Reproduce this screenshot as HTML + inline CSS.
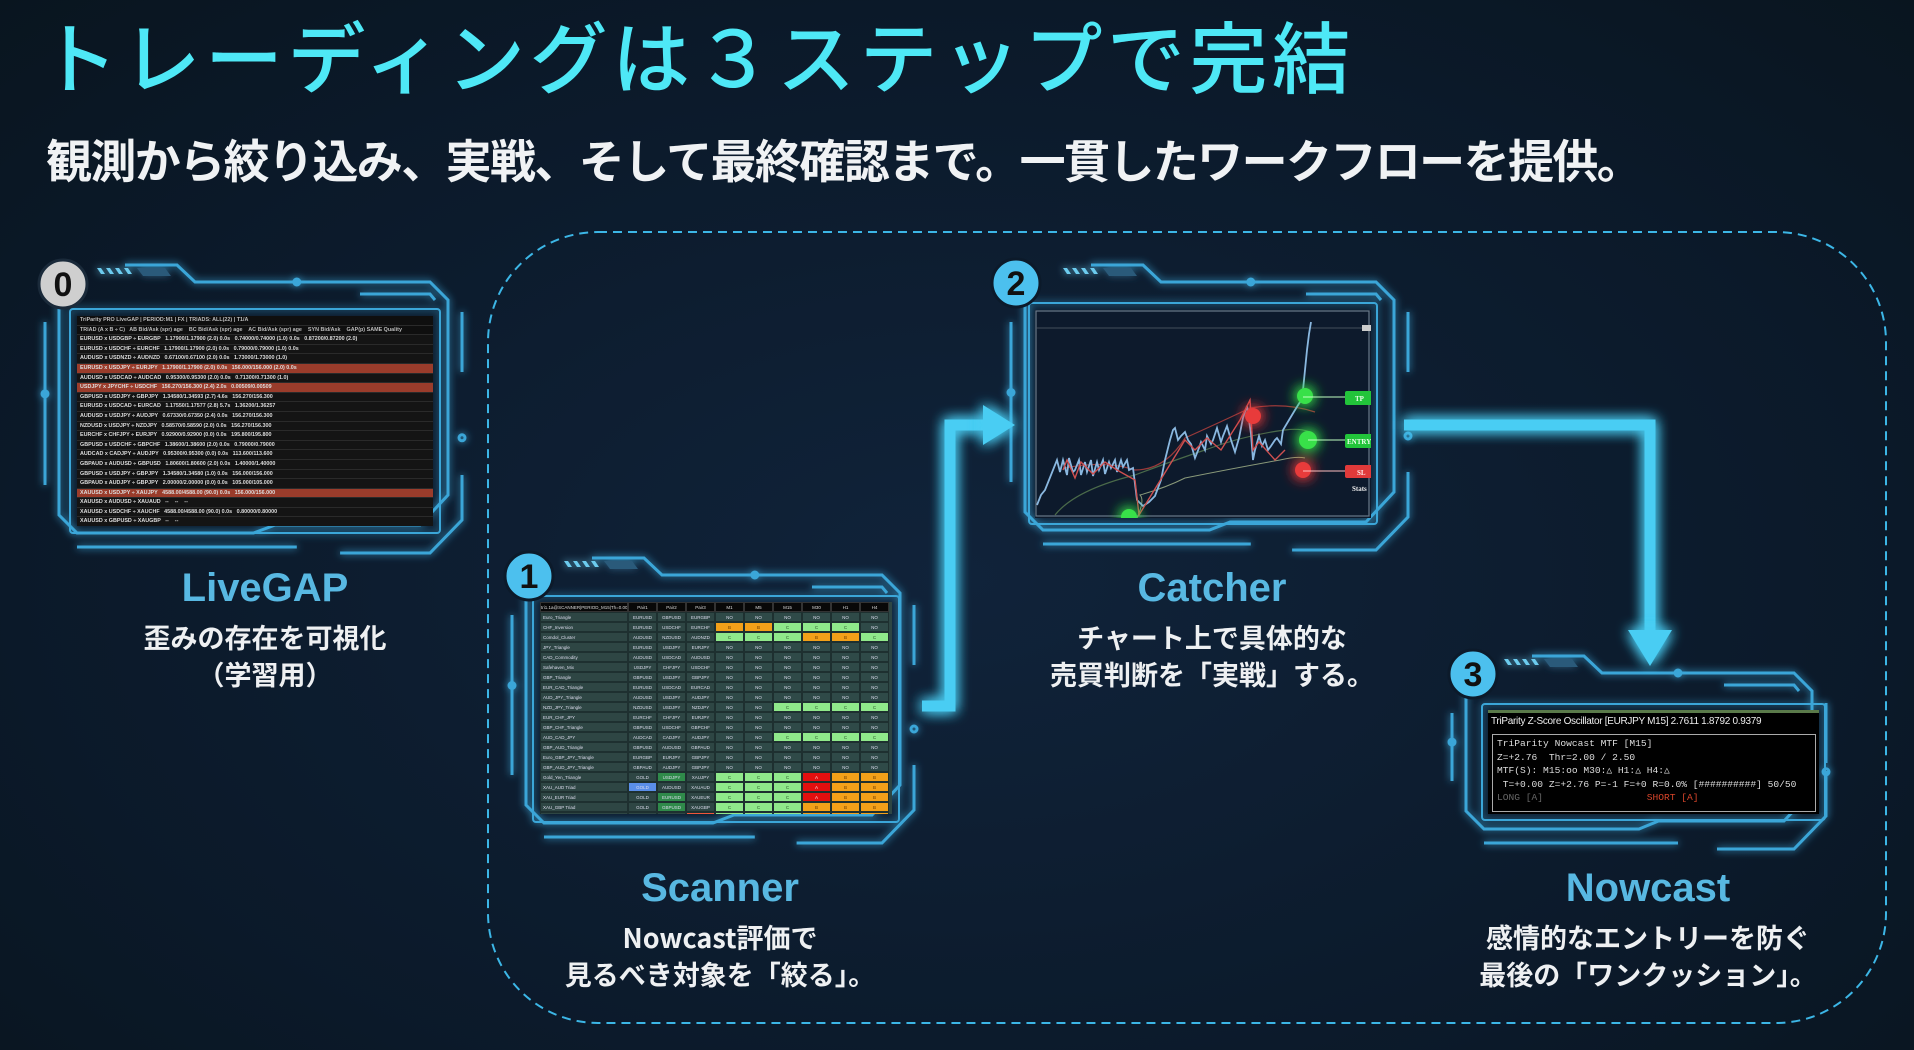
<!DOCTYPE html>
<html><head><meta charset="utf-8">
<style>
*{margin:0;padding:0;box-sizing:border-box}
body{width:1914px;height:1050px;background:#0c1a2a;position:relative;overflow:hidden;font-family:"Liberation Sans","Noto Sans CJK JP",sans-serif}
.abs{position:absolute}
#bg{position:absolute;left:0;top:0;width:1914px;height:1050px;background:radial-gradient(ellipse at 50% 55%,#10233a 0%,#0b1929 70%,#09151f 100%)}
.title{left:40px;top:6px;font-family:"Noto Sans CJK JP",sans-serif;font-size:78px;font-weight:500;color:#4ee8f6;white-space:nowrap;line-height:1.25;letter-spacing:4.5px}
.sub{left:46px;top:132px;font-family:"Noto Sans CJK JP",sans-serif;font-size:46px;font-weight:700;color:#f0f2f4;white-space:nowrap;line-height:1.2;letter-spacing:-1.6px}
.lbl{font-family:"Liberation Sans","DejaVu Sans",sans-serif;font-weight:700;font-size:40px;color:#58b8e2;text-align:center;width:400px;line-height:1}
.desc{font-family:"Noto Sans CJK JP",sans-serif;font-weight:700;font-size:27px;color:#eef0f2;text-align:center;width:500px;line-height:37px}
.scr{position:absolute;overflow:hidden}
.lg{background:#141414;font-family:"Liberation Sans",sans-serif;font-size:5.4px;font-weight:700;color:#ddd;line-height:9.6px}
.lg div{height:9.6px;white-space:nowrap;border-bottom:1px solid #2a2a2a;padding-left:3px}
.lg .h{background:#0f0f0f;color:#bbb}
.lg .rd{background:#9a3c2b}
.sc{background:#2e4644;display:grid;grid-template-columns:88px 29px 29px 29px 29px 29px 29px 29px 29px 29px;grid-auto-rows:10px;font-size:4.5px;color:#dde;font-family:"Liberation Sans",sans-serif}
.sc span{border:0.5px solid #1e3030;text-align:center;line-height:9px;overflow:hidden;white-space:nowrap}
.sc .hd{background:#080808;color:#ddd;border-color:#333}
.sc .n{background:#2f4a48}
.sc .g{background:#8fe88a;color:#2a5a2a}
.sc .o{background:#f2a019;color:#6a3a00}
.sc .r{background:#e30f0f;color:#fdd}
.sc .l{text-align:left;padding-left:2px}
.nc{background:#000;font-family:"Liberation Mono",monospace;color:#ddd}
</style></head><body>
<div id="bg"></div>
<svg class="abs" style="left:0;top:0" width="1914" height="1050" viewBox="0 0 1914 1050">
<defs>
<filter id="glow" x="-20%" y="-20%" width="140%" height="140%"><feGaussianBlur stdDeviation="4" result="b"/><feMerge><feMergeNode in="b"/><feMergeNode in="SourceGraphic"/></feMerge></filter>
<filter id="glow2" x="-50%" y="-50%" width="200%" height="200%"><feGaussianBlur stdDeviation="7" result="b"/><feMerge><feMergeNode in="b"/><feMergeNode in="b"/><feMergeNode in="SourceGraphic"/></feMerge></filter>
</defs>
<rect x="488" y="232" width="1398" height="791" rx="110" fill="none" stroke="#3cb6e6" stroke-width="2" stroke-dasharray="9 6"/>
<g id="frames" fill="none" stroke="#3aa6d8" stroke-width="3" filter="url(#glow)"></g>
<g filter="url(#glow2)" stroke="#48cdf3" stroke-width="11" fill="none" stroke-linejoin="miter">
<polyline points="922,706 950,706 950,425 985,425"/>
<polyline points="1404,425 1650,425 1650,635"/>
</g>
<g filter="url(#glow2)" fill="#48cdf3">
<polygon points="983,405 1015,425 983,445"/>
<polygon points="1628,630 1672,630 1650,666"/>
</g>
</svg>

<div class="abs title">トレーディングは３ステップで完結</div>
<div class="abs sub">観測から絞り込み、実戦、そして最終確認まで。一貫したワークフローを提供。</div>

<div class="scr lg" style="left:77px;top:316px;width:356px;height:210px">
<div class="h">TriParity PRO LiveGAP | PERIOD:M1 | FX | TRIADS: ALL(22) | T1/A</div>
<div class="h">TRIAD (A x B ÷ C) &nbsp; AB Bid/Ask (spr) age &nbsp;&nbsp; BC Bid/Ask (spr) age &nbsp;&nbsp; AC Bid/Ask (spr) age &nbsp;&nbsp; SYN Bid/Ask &nbsp;&nbsp; GAP(p) SAME Quality</div>
<div>EURUSD x USDGBP ÷ EURGBP &nbsp; 1.17900/1.17900 (2.0) 0.0s &nbsp; 0.74000/0.74000 (1.0) 0.0s &nbsp; 0.87200/0.87200 (2.0)</div>
<div>EURUSD x USDCHF ÷ EURCHF &nbsp; 1.17900/1.17900 (2.0) 0.0s &nbsp; 0.79000/0.79000 (1.0) 0.0s</div>
<div>AUDUSD x USDNZD ÷ AUDNZD &nbsp; 0.67100/0.67100 (2.0) 0.0s &nbsp; 1.73000/1.73000 (1.0)</div>
<div class="rd">EURUSD x USDJPY ÷ EURJPY &nbsp; 1.17900/1.17900 (2.0) 0.0s &nbsp; 156.000/156.000 (2.0) 0.0s</div>
<div>AUDUSD x USDCAD ÷ AUDCAD &nbsp; 0.95300/0.95300 (2.0) 0.0s &nbsp; 0.71300/0.71300 (1.0)</div>
<div class="rd">USDJPY x JPYCHF ÷ USDCHF &nbsp; 156.270/156.300 (2.4) 2.0s &nbsp; 0.00509/0.00509</div>
<div>GBPUSD x USDJPY ÷ GBPJPY &nbsp; 1.34580/1.34593 (2.7) 4.6s &nbsp; 156.270/156.300</div>
<div>EURUSD x USDCAD ÷ EURCAD &nbsp; 1.17550/1.17577 (2.8) 5.7s &nbsp; 1.36200/1.36257</div>
<div>AUDUSD x USDJPY ÷ AUDJPY &nbsp; 0.67330/0.67350 (2.4) 0.0s &nbsp; 156.270/156.300</div>
<div>NZDUSD x USDJPY ÷ NZDJPY &nbsp; 0.58570/0.58590 (2.0) 0.0s &nbsp; 156.270/156.300</div>
<div>EURCHF x CHFJPY ÷ EURJPY &nbsp; 0.92900/0.92900 (0.0) 0.0s &nbsp; 195.800/195.800</div>
<div>GBPUSD x USDCHF ÷ GBPCHF &nbsp; 1.38600/1.38600 (2.0) 0.0s &nbsp; 0.79000/0.79000</div>
<div>AUDCAD x CADJPY ÷ AUDJPY &nbsp; 0.95300/0.95300 (0.0) 0.0s &nbsp; 113.600/113.600</div>
<div>GBPAUD x AUDUSD ÷ GBPUSD &nbsp; 1.80600/1.80600 (2.0) 0.0s &nbsp; 1.40000/1.40000</div>
<div>GBPUSD x USDJPY ÷ GBPJPY &nbsp; 1.34580/1.34580 (1.0) 0.0s &nbsp; 156.000/156.000</div>
<div>GBPAUD x AUDJPY ÷ GBPJPY &nbsp; 2.00000/2.00000 (0.0) 0.0s &nbsp; 105.000/105.000</div>
<div class="rd">XAUUSD x USDJPY ÷ XAUJPY &nbsp; 4588.00/4588.00 (90.0) 0.0s &nbsp; 156.000/156.000</div>
<div>XAUUSD x AUDUSD ÷ XAUAUD &nbsp; -- &nbsp;&nbsp; -- &nbsp;&nbsp; --</div>
<div>XAUUSD x USDCHF ÷ XAUCHF &nbsp; 4588.00/4588.00 (90.0) 0.0s &nbsp; 0.80000/0.80000</div>
<div>XAUUSD x GBPUSD ÷ XAUGBP &nbsp; -- &nbsp;&nbsp; --</div>
</div>

<div class="scr sc" style="left:540px;top:602px;width:352px;height:212px">
<span class="hd">tri1.1a@SCANNER|PERIOD_M15|Th=0.00</span><span class="hd">Pair1</span><span class="hd">Pair2</span><span class="hd">Pair3</span><span class="hd">M1</span><span class="hd">M5</span><span class="hd">M15</span><span class="hd">M30</span><span class="hd">H1</span><span class="hd">H4</span>
<span class="l">Euro_Triangle</span><span>EURUSD</span><span>GBPUSD</span><span>EURGBP</span><span class="n">NO</span><span class="n">NO</span><span class="n">NO</span><span class="n">NO</span><span class="n">NO</span><span class="n">NO</span>
<span class="l">CHF_Inversion</span><span>EURUSD</span><span>USDCHF</span><span>EURCHF</span><span class="o">B</span><span class="o">B</span><span class="g">C</span><span class="g">C</span><span class="g">C</span><span class="n">NO</span>
<span class="l">Comdol_Cluster</span><span>AUDUSD</span><span>NZDUSD</span><span>AUDNZD</span><span class="g">C</span><span class="g">C</span><span class="g">C</span><span class="o">B</span><span class="o">B</span><span class="g">C</span>
<span class="l">JPY_Triangle</span><span>EURUSD</span><span>USDJPY</span><span>EURJPY</span><span class="n">NO</span><span class="n">NO</span><span class="n">NO</span><span class="n">NO</span><span class="n">NO</span><span class="n">NO</span>
<span class="l">CAD_Commodity</span><span>AUDUSD</span><span>USDCAD</span><span>AUDUSD</span><span class="n">NO</span><span class="n">NO</span><span class="n">NO</span><span class="n">NO</span><span class="n">NO</span><span class="n">NO</span>
<span class="l">Safehaven_Mix</span><span>USDJPY</span><span>CHFJPY</span><span>USDCHF</span><span class="n">NO</span><span class="n">NO</span><span class="n">NO</span><span class="n">NO</span><span class="n">NO</span><span class="n">NO</span>
<span class="l">GBP_Triangle</span><span>GBPUSD</span><span>USDJPY</span><span>GBPJPY</span><span class="n">NO</span><span class="n">NO</span><span class="n">NO</span><span class="n">NO</span><span class="n">NO</span><span class="n">NO</span>
<span class="l">EUR_CAD_Triangle</span><span>EURUSD</span><span>USDCAD</span><span>EURCAD</span><span class="n">NO</span><span class="n">NO</span><span class="n">NO</span><span class="n">NO</span><span class="n">NO</span><span class="n">NO</span>
<span class="l">AUD_JPY_Triangle</span><span>AUDUSD</span><span>USDJPY</span><span>AUDJPY</span><span class="n">NO</span><span class="n">NO</span><span class="n">NO</span><span class="n">NO</span><span class="n">NO</span><span class="n">NO</span>
<span class="l">NZD_JPY_Triangle</span><span>NZDUSD</span><span>USDJPY</span><span>NZDJPY</span><span class="n">NO</span><span class="n">NO</span><span class="g">C</span><span class="g">C</span><span class="g">C</span><span class="g">C</span>
<span class="l">EUR_CHF_JPY</span><span>EURCHF</span><span>CHFJPY</span><span>EURJPY</span><span class="n">NO</span><span class="n">NO</span><span class="n">NO</span><span class="n">NO</span><span class="n">NO</span><span class="n">NO</span>
<span class="l">GBP_CHF_Triangle</span><span>GBPUSD</span><span>USDCHF</span><span>GBPCHF</span><span class="n">NO</span><span class="n">NO</span><span class="n">NO</span><span class="n">NO</span><span class="n">NO</span><span class="n">NO</span>
<span class="l">AUD_CAD_JPY</span><span>AUDCAD</span><span>CADJPY</span><span>AUDJPY</span><span class="n">NO</span><span class="n">NO</span><span class="g">C</span><span class="g">C</span><span class="g">C</span><span class="g">C</span>
<span class="l">GBP_AUD_Triangle</span><span>GBPUSD</span><span>AUDUSD</span><span>GBPAUD</span><span class="n">NO</span><span class="n">NO</span><span class="n">NO</span><span class="n">NO</span><span class="n">NO</span><span class="n">NO</span>
<span class="l">Euro_GBP_JPY_Triangle</span><span>EURGBP</span><span>EURJPY</span><span>GBPJPY</span><span class="n">NO</span><span class="n">NO</span><span class="n">NO</span><span class="n">NO</span><span class="n">NO</span><span class="n">NO</span>
<span class="l">GBP_AUD_JPY_Triangle</span><span>GBPAUD</span><span>AUDJPY</span><span>GBPJPY</span><span class="n">NO</span><span class="n">NO</span><span class="n">NO</span><span class="n">NO</span><span class="n">NO</span><span class="n">NO</span>
<span class="l">Gold_Yen_Triangle</span><span>GOLD</span><span style="background:#2f8a4a">USDJPY</span><span>XAUJPY</span><span class="g">C</span><span class="g">C</span><span class="g">C</span><span class="r">A</span><span class="o">B</span><span class="o">B</span>
<span class="l">XAU_AUD Triad</span><span style="background:#5a8ee8">GOLD</span><span>AUDUSD</span><span>XAUAUD</span><span class="g">C</span><span class="g">C</span><span class="g">C</span><span class="r">A</span><span class="o">B</span><span class="o">B</span>
<span class="l">XAU_EUR Triad</span><span>GOLD</span><span style="background:#2f8a4a">EURUSD</span><span>XAUEUR</span><span class="g">C</span><span class="g">C</span><span class="g">C</span><span class="r">A</span><span class="o">B</span><span class="o">B</span>
<span class="l">XAU_GBP Triad</span><span>GOLD</span><span style="background:#2f8a4a">GBPUSD</span><span>XAUGBP</span><span class="g">C</span><span class="g">C</span><span class="g">C</span><span class="o">B</span><span class="o">B</span><span class="o">B</span>
<span class="l">XAU_CHF Triad</span><span>GOLD</span><span>USDCHF</span><span style="background:#f0563a">XAUCHF</span><span class="g">C</span><span class="g">C</span><span class="g">C</span><span class="o">B</span><span class="o">B</span><span class="o">B</span>
</div>

<svg class="abs" style="left:1035px;top:310px" width="336" height="208" viewBox="0 0 336 208">
<rect x="0" y="0" width="336" height="208" fill="#0d1a2c"/>
<rect x="1" y="1" width="333" height="205" fill="none" stroke="#6a7a8a" stroke-width="1.2"/>
<line x1="1" y1="18" x2="334" y2="18" stroke="#555f6a" stroke-width="0.8"/>
<rect x="327" y="15" width="25" height="6" fill="#ccc"/>
<path d="M30,158 Q70,150 100,160 Q130,160 150,128 Q190,110 215,98 Q250,92 280,102" fill="none" stroke="#9a3a3a" stroke-width="1.2"/>
<path d="M20,205 Q40,180 100,165 Q140,150 170,140 Q210,125 250,120 Q265,118 275,122" fill="none" stroke="#4a6a4a" stroke-width="1.2"/>
<path d="M102,208 Q110,190 105,185 Q130,178 150,168 Q200,158 245,150 Q262,146 270,148" fill="none" stroke="#8a9a7a" stroke-width="1"/>
<polyline fill="none" stroke="#8ab8e0" stroke-width="1.8" points="2,195 6,185 10,180 14,170 18,160 22,150 25,162 28,150 32,165 34,148 38,162 40,160 44,150 46,165 50,152 52,162 56,150 58,166 62,152 64,160 68,150 70,164 74,152 76,158 80,150 82,162 86,150 88,157 92,150 94,160 98,158 102,190 108,196 114,192 120,186 126,170 130,150 135,130 138,120 140,118 143,130 146,126 150,122 153,130 156,134 160,148 164,138 166,132 170,140 172,126 176,134 178,130 182,118 186,132 188,126 192,116 196,130 200,142 204,128 208,108 212,96 216,124 218,150 220,140 224,126 227,136 230,130 233,140 236,136 240,130 242,128 246,134 248,120 254,110 260,100 265,92 268,80 270,60 272,40 274,24 276,12"/>
<polyline fill="none" stroke="#d05050" stroke-width="1.4" points="28,160 32,150 40,168 46,152 58,164 70,152 82,160 100,170 104,205 150,130 160,140 172,128 186,140 205,110 215,90 218,140 224,132 240,150 250,140"/>
<g filter="url(#glow2)">
<circle cx="94" cy="207" r="8" fill="#38e04a"/>
<circle cx="218" cy="106" r="8" fill="#e83a3a"/>
<circle cx="270" cy="86" r="8" fill="#38e04a"/>
<circle cx="273" cy="130" r="9" fill="#38e04a"/>
<circle cx="268" cy="160" r="8" fill="#e83a3a"/>
</g>
<line x1="268" y1="87" x2="310" y2="87" stroke="#bfffbf" stroke-width="1"/>
<line x1="273" y1="130" x2="310" y2="130" stroke="#bfffbf" stroke-width="1"/>
<line x1="268" y1="161" x2="310" y2="161" stroke="#ffbfbf" stroke-width="1"/>
<rect x="310" y="81" width="36" height="14" rx="2" fill="#22c43a"/>
<rect x="310" y="124" width="36" height="14" rx="2" fill="#22c43a"/>
<rect x="310" y="155" width="36" height="13" rx="2" fill="#e03a3a"/>
<text x="320" y="91" font-size="7" font-weight="700" fill="#eaffea" font-family="Liberation Serif">TP</text>
<text x="312" y="134" font-size="7" font-weight="700" fill="#eaffea" font-family="Liberation Serif">ENTRY</text>
<text x="322" y="165" font-size="7" font-weight="700" fill="#ffeaea" font-family="Liberation Serif">SL</text>
<text x="317" y="181" font-size="7" font-weight="700" fill="#eee" font-family="Liberation Serif">Stats</text>
</svg>

<div class="scr nc" style="left:1488px;top:710px;width:331px;height:104px;border-top:3px solid #5a7a4a">
<div style="font-family:'Liberation Sans',sans-serif;font-size:10px;color:#eee;padding:3px 0 0 3px;letter-spacing:-0.3px">TriParity Z-Score Oscillator [EURJPY M15] 2.7611 1.8792 0.9379</div>
<div style="position:absolute;left:4px;top:21px;width:324px;height:78px;border:1.5px solid #aaa;padding:2px 4px;font-size:9.6px;line-height:13.5px;white-space:pre;font-family:'Liberation Mono',monospace">TriParity Nowcast MTF [M15]
Z=+2.76  Thr=2.00 / 2.50
MTF(S): M15:oo M30:△ H1:△ H4:△
 T=+0.00 Z=+2.76 P=-1 F=+0 R=0.0% [##########] 50/50
<span style="color:#666">LONG [A]</span>                  <span style="color:#d8452a">SHORT [A]</span></div>
</div>

<svg class="abs" style="left:0;top:0;pointer-events:none" width="1914" height="1050">
<g font-family="Liberation Sans" font-weight="700" font-size="34" text-anchor="middle" fill="#111">
<circle cx="63" cy="284" r="24" fill="#cfcfcf" stroke="#1a2a3a" stroke-width="3"/><text x="63" y="296">0</text>
<circle cx="529" cy="576" r="24" fill="#4cc0ee" stroke="#0c1a2a" stroke-width="3"/><text x="529" y="588">1</text>
<circle cx="1016" cy="283" r="24" fill="#4cc0ee" stroke="#0c1a2a" stroke-width="3"/><text x="1016" y="295">2</text>
<circle cx="1473" cy="674" r="24" fill="#4cc0ee" stroke="#0c1a2a" stroke-width="3"/><text x="1473" y="686">3</text>
</g>
</svg>

<div class="abs lbl" style="left:65px;top:568px">LiveGAP</div>
<div class="abs desc" style="left:15px;top:618px">歪みの存在を可視化<br>（学習用）</div>
<div class="abs lbl" style="left:520px;top:868px">Scanner</div>
<div class="abs desc" style="left:470px;top:918px">Nowcast評価で<br>見るべき対象を「絞る」。</div>
<div class="abs lbl" style="left:1012px;top:568px">Catcher</div>
<div class="abs desc" style="left:962px;top:618px">チャート上で具体的な<br>売買判断を「実戦」する。</div>
<div class="abs lbl" style="left:1448px;top:868px">Nowcast</div>
<div class="abs desc" style="left:1398px;top:918px">感情的なエントリーを防ぐ<br>最後の「ワンクッション」。</div>

<script>
function frame(x,y,w,h){
 var s='';
 var P=function(a){return '<path d="'+a+'"/>';};
 s+=P('M'+(x+88)+','+(y+3)+' L'+(x+140)+','+(y+3)+' L'+(x+158)+','+(y+20)+' L'+(x+w-40)+','+(y+20)+' L'+(x+w-22)+','+(y+38)+' L'+(x+w-22)+','+(y+h-60)+' L'+(x+w-50)+','+(y+h-30)+' L'+(x+w*0.55)+','+(y+h-30)+' L'+(x+w*0.5)+','+(y+h-22)+' L'+(x+40)+','+(y+h-22)+' L'+(x+22)+','+(y+h-40)+' L'+(x+22)+','+(y+40));
 s+=P('M'+(x+40)+','+(y+h-8)+' L'+(x+w*0.6)+','+(y+h-8)+' M'+(x+w*0.7)+','+(y+h-2)+' L'+(x+w-40)+','+(y+h-2)+' L'+(x+w-8)+','+(y+h-35)+' L'+(x+w-8)+','+(y+h-80));
 s+=P('M'+(x+8)+','+(y+60)+' L'+(x+8)+','+(y+h-70)+' M'+(x+w-8)+','+(y+50)+' L'+(x+w-8)+','+(y+110));
 s+=P('M'+(x+w-110)+','+(y+32)+' L'+(x+w-40)+','+(y+32)+' L'+(x+w-35)+','+(y+38));
 s+='<circle cx="'+(x+w*0.6)+'" cy="'+(y+20)+'" r="3"/><circle cx="'+(x+8)+'" cy="'+(y+h*0.45)+'" r="3"/><circle cx="'+(x+w-8)+'" cy="'+(y+h*0.6)+'" r="3"/>';
 for(var i=0;i<4;i++){var sx=x+60+i*9;s+='<path d="M'+sx+','+(y+6)+' l4,0 l4,6 l-4,0z" fill="#6ccbee" stroke="none"/>';}
 s+='<path d="M'+(x+100)+','+(y+6)+' l28,0 l6,8 l-28,0z" fill="#2a5a7a" stroke="none"/>';
 return s;
}
var g=document.getElementById('frames');
g.innerHTML=frame(37,262,433,293)+frame(504,555,418,290)+frame(1003,262,413,290)+frame(1444,653,390,198)
+'<rect x="70" y="309" width="370" height="224" rx="3" stroke-width="2"/>'
+'<rect x="533" y="596" width="366" height="226" rx="3" stroke-width="2"/>'
+'<rect x="1029" y="303" width="348" height="221" rx="3" stroke-width="2"/>'
+'<rect x="1482" y="704" width="343" height="116" rx="3" stroke-width="2"/>';
</script>
</body></html>
